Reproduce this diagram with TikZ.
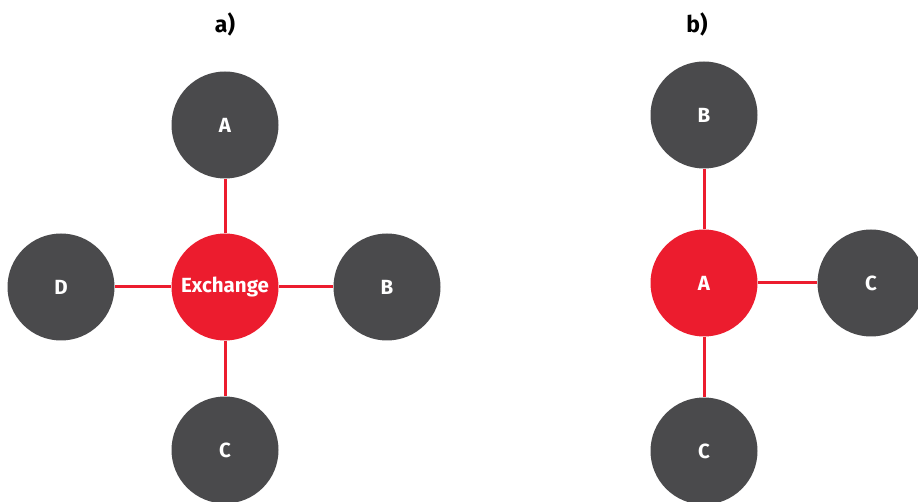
\documentclass[tikz,border=0pt]{standalone}
\usepackage{fontspec}
\setmainfont{Fira Sans}
\definecolor{nodegray}{HTML}{4A4A4C}
\definecolor{nodered}{HTML}{EC1C2E}
\begin{document}
\begin{tikzpicture}[x=1pt,y=-1pt,
  peer/.style={circle,fill=nodegray,minimum size=107pt,inner sep=0pt,text=white,font=\fontsize{20.5}{20.5}\selectfont\bfseries},
  hub/.style={peer,fill=nodered},
  link/.style={draw=nodered,line width=3pt},
  paneltitle/.style={font=\fontsize{23}{23}\selectfont\bfseries}]
\useasboundingbox (0,0) rectangle (918,502);
\clip (0,0) rectangle (918,502);
% panel a
\node[paneltitle] (ta) at (225,24) {a)};
\node[hub] (ex) at (225,287) {Exchange};
\node[peer] (aA) at (225,125) {A};
\node[peer] (aD) at (61,287) {D};
\node[peer] (aB) at (387,287) {B};
\node[peer] (aC) at (225,450) {C};
\draw[link] (aA) -- (ex);
\draw[link] (aD) -- (ex);
\draw[link] (ex) -- (aB);
\draw[link] (ex) -- (aC);
% panel b
\node[paneltitle] (tb) at (697,24) {b)};
\node[hub] (bA) at (704,283) {A};
\node[peer] (bB) at (704,115) {B};
\node[peer] (bC1) at (871,283) {C};
\node[peer] (bC2) at (704,451) {C};
\draw[link] (bB) -- (bA);
\draw[link] (bA) -- (bC1);
\draw[link] (bA) -- (bC2);
\end{tikzpicture}
\end{document}
